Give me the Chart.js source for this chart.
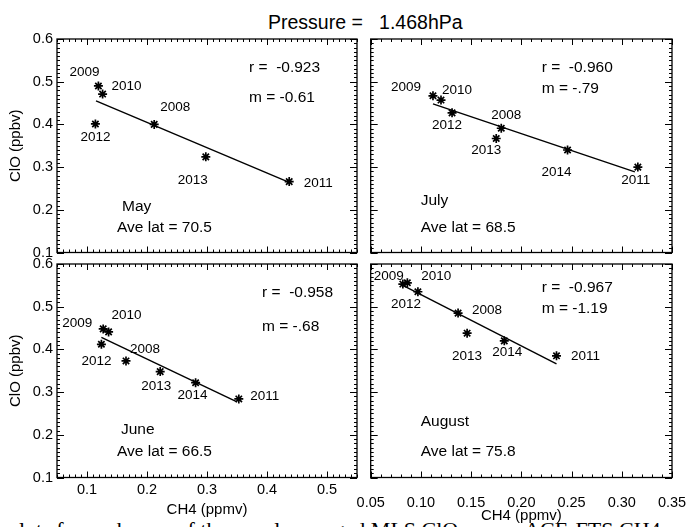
<!DOCTYPE html>
<html>
<head>
<meta charset="utf-8">
<script src="https://cdn.jsdelivr.net/npm/chart.js@4.4.1/dist/chart.umd.min.js"></script>
<style>
html, body { margin: 0; padding: 0; background: #fff; }
body { width: 688px; height: 527px; position: relative; overflow: hidden; font-family: "Liberation Sans", Arial, sans-serif; }
canvas { position: absolute; left: 0; top: 0; }
#title { position: absolute; left: 268px; top: 12px; font-size: 19.5px; line-height: 20px; white-space: pre; color: #000; }
#foot { position: absolute; left: 8px; top: 517px; font-family: "Liberation Serif", "Times New Roman", serif; font-size: 22px; line-height: 26px; white-space: pre; color: #000; }
</style>
</head>
<body>
<div id="title">Pressure =   1.468hPa</div>
<div id="foot">plots for each year of the zonal averaged MLS ClO versus ACE-FTS CH4</div>
<canvas id="may" width="688" height="527"></canvas>
<canvas id="july" width="688" height="527"></canvas>
<canvas id="june" width="688" height="527"></canvas>
<canvas id="august" width="688" height="527"></canvas>
<script>
// values
const mayYears = ['2009', '2010', '2012', '2008', '2013', '2011'];
const mayCH4 = [0.119, 0.126, 0.114, 0.212, 0.298, 0.437];
const mayClO = [0.490, 0.471, 0.401, 0.400, 0.324, 0.266];
const mayFitCH4 = [0.115, 0.437];
const mayFitClO = [0.455, 0.264];

const julyYears = ['2009', '2010', '2012', '2008', '2013', '2014', '2011'];
const julyCH4 = [0.112, 0.120, 0.131, 0.180, 0.175, 0.246, 0.316];
const julyClO = [0.467, 0.457, 0.427, 0.391, 0.367, 0.340, 0.300];
const julyFitCH4 = [0.112, 0.313];
const julyFitClO = [0.448, 0.289];

const juneYears = ['2009', '2010', '2012', '2008', '2013', '2014', '2011'];
const juneCH4 = [0.127, 0.136, 0.124, 0.165, 0.222, 0.281, 0.353];
const juneClO = [0.448, 0.441, 0.412, 0.373, 0.348, 0.322, 0.284];
const juneFitCH4 = [0.124, 0.350];
const juneFitClO = [0.428, 0.277];

const augYears = ['2009', '2010', '2012', '2008', '2013', '2014', '2011'];
const augCH4 = [0.082, 0.0865, 0.097, 0.137, 0.146, 0.183, 0.235];
const augClO = [0.553, 0.556, 0.535, 0.485, 0.438, 0.420, 0.385];
const augFitCH4 = [0.081, 0.235];
const augFitClO = [0.551, 0.366];

const rValues = ['-0.923', '-0.960', '-0.958', '-0.967'];
const mValues = ['-0.61', '-.79', '-.68', '-1.19'];
const monthNames = ['May', 'July', 'June', 'August'];
const aveLats = ['70.5', '68.5', '66.5', '75.8'];

const yTicks = [0.1, 0.2, 0.3, 0.4, 0.5, 0.6];
const yTickLabels = ['0.1', '0.2', '0.3', '0.4', '0.5', '0.6'];
const xTicksLeft = [0.1, 0.2, 0.3, 0.4, 0.5];
const xTickLabelsLeft = ['0.1', '0.2', '0.3', '0.4', '0.5'];
const xTicksRight = [0.05, 0.10, 0.15, 0.20, 0.25, 0.30, 0.35];
const xTickLabelsRight = ['0.05', '0.10', '0.15', '0.20', '0.25', '0.30', '0.35'];

// pixel nudges for the year labels, relative to their star
const mayLabelOffsets = [[-14, -14], [24, -8], [0, 13], [21, -17], [-13, 23], [29, 2]];
const julyLabelOffsets = [[-27, -9], [16, -10], [-5, 12], [5, -13], [-10, 12], [-11, 22], [-2, 13]];
const juneLabelOffsets = [[-26, -6], [18, -17], [-5, 17], [19, -12], [-4, 15], [-3, 13], [26, -3]];
const augLabelOffsets = [[-14, -8], [29, -7], [-12, 13], [29, -3], [0, 23], [3, 11], [29, 0]];

const FONT = '"Liberation Sans", Arial, sans-serif';
Chart.defaults.font.family = FONT;
Chart.defaults.color = '#000';

// IDL style box: border, inward major + minor ticks on all sides, text
const frame = {
  id: 'frame',
  afterDatasetsDraw(chart) {
    const p = chart.options.plugins.frame;
    const { ctx, chartArea: a, scales: { x, y } } = chart;
    ctx.save();
    ctx.strokeStyle = '#000';
    ctx.lineWidth = 1;
    ctx.beginPath();
    const nx = Math.round((p.xMax - p.xMin) / p.xMinor);
    for (let k = 0; k <= nx; k++) {
      const px = Math.round(x.getPixelForValue(p.xMin + k * p.xMinor)) + 0.5;
      ctx.moveTo(px, a.bottom); ctx.lineTo(px, a.bottom - 3);
      ctx.moveTo(px, a.top); ctx.lineTo(px, a.top + 3);
    }
    const ny = Math.round((p.yMax - p.yMin) / p.yMinor);
    for (let k = 0; k <= ny; k++) {
      const py = Math.round(y.getPixelForValue(p.yMin + k * p.yMinor)) + 0.5;
      ctx.moveTo(a.left, py); ctx.lineTo(a.left + 3, py);
      ctx.moveTo(a.right, py); ctx.lineTo(a.right - 3, py);
    }
    x.ticks.forEach(t => {
      const px = Math.round(x.getPixelForValue(t.value)) + 0.5;
      ctx.moveTo(px, a.bottom); ctx.lineTo(px, a.bottom - 6);
      ctx.moveTo(px, a.top); ctx.lineTo(px, a.top + 6);
    });
    y.ticks.forEach(t => {
      const py = Math.round(y.getPixelForValue(t.value)) + 0.5;
      ctx.moveTo(a.left, py); ctx.lineTo(a.left + 7, py);
      ctx.moveTo(a.right, py); ctx.lineTo(a.right - 7, py);
    });
    ctx.stroke();
    ctx.lineWidth = 1.3;
    ctx.strokeRect(a.left, a.top, a.right - a.left, a.bottom - a.top);

    ctx.fillStyle = '#000';
    ctx.font = '13.5px ' + FONT;
    ctx.textAlign = 'center';
    ctx.textBaseline = 'middle';
    p.years.forEach((yr, i) => {
      const px = x.getPixelForValue(p.ch4[i]) + p.offsets[i][0];
      const py = y.getPixelForValue(p.clo[i]) + p.offsets[i][1];
      ctx.fillText(yr, px, py);
    });
    ctx.font = '15.5px ' + FONT;
    ctx.textAlign = 'left';
    const s = p.textPos;
    ctx.fillText('r =  ' + p.r, a.left + s[0][0], a.top + s[0][1]);
    ctx.fillText('m = ' + p.m, a.left + s[1][0], a.top + s[1][1]);
    ctx.fillText(p.month, a.left + s[2][0], a.top + s[2][1]);
    ctx.fillText('Ave lat = ' + p.lat, a.left + s[3][0], a.top + s[3][1]);
    ctx.restore();
  }
};

function makePanel(id, p) {
  const pts = p.ch4.map((v, i) => ({ x: v, y: p.clo[i] }));
  const fit = p.fitX.map((v, i) => ({ x: v, y: p.fitY[i] }));
  new Chart(document.getElementById(id), {
    type: 'scatter',
    data: {
      datasets: [
        { data: fit, showLine: true, pointRadius: 0, borderColor: '#000', borderWidth: 1.4 },
        { data: pts, pointStyle: 'star', pointRadius: 4.5, borderColor: '#000', backgroundColor: '#000', borderWidth: 1.7 }
      ]
    },
    options: {
      responsive: false,
      animation: false,
      events: [],
      layout: { autoPadding: false, padding: p.pad },
      plugins: {
        legend: { display: false },
        tooltip: { enabled: false },
        frame: p
      },
      scales: {
        x: {
          type: 'linear', min: p.xMin, max: p.xMax,
          grid: { display: false, drawTicks: false },
          border: { display: false },
          afterBuildTicks: s => { s.ticks = p.xTicks.map(v => ({ value: v })); },
          afterFit: s => { s.height = p.xH; s.paddingLeft = 0; s.paddingRight = 0; },
          ticks: {
            display: p.showX, padding: p.xPad, autoSkip: false, maxRotation: 0,
            font: { size: 14.5 }, color: '#000',
            callback: (v, i) => p.xLabels[i]
          },
          title: { display: p.showX, text: 'CH4 (ppmv)', font: { size: 15 }, padding: 0, color: '#000' }
        },
        y: {
          type: 'linear', min: p.yMin, max: p.yMax,
          grid: { display: false, drawTicks: false },
          border: { display: false },
          afterBuildTicks: s => { s.ticks = yTicks.map(v => ({ value: v })); },
          afterFit: s => { s.width = p.yW; s.paddingTop = 0; s.paddingBottom = 0; },
          ticks: {
            display: p.showY, padding: 4, autoSkip: false,
            font: { size: 14.5 }, color: '#000',
            callback: (v, i) => yTickLabels[i]
          },
          title: { display: p.showY, text: 'ClO (ppbv)', font: { size: 15 }, padding: 0, color: '#000' }
        }
      }
    },
    plugins: [frame]
  });
}

const leftX = { xMin: 0.05, xMax: 0.55, xMinor: 0.01, xTicks: xTicksLeft, xLabels: xTickLabelsLeft };
const rightX = { xMin: 0.05, xMax: 0.35, xMinor: 0.01, xTicks: xTicksRight, xLabels: xTickLabelsRight };
const yRange = { yMin: 0.1, yMax: 0.6, yMinor: 0.01 };

makePanel('may', Object.assign({}, leftX, yRange, {
  years: mayYears, ch4: mayCH4, clo: mayClO, fitX: mayFitCH4, fitY: mayFitClO, offsets: mayLabelOffsets,
  r: rValues[0], m: mValues[0], month: monthNames[0], lat: aveLats[0],
  textPos: [[192, 29], [192, 59], [65, 168], [60, 189]],
  pad: { left: 7, top: 39, right: 331, bottom: 274.5 },
  showX: false, showY: true, xH: 0, yW: 50, xPad: 0
}));
makePanel('july', Object.assign({}, rightX, yRange, {
  years: julyYears, ch4: julyCH4, clo: julyClO, fitX: julyFitCH4, fitY: julyFitClO, offsets: julyLabelOffsets,
  r: rValues[1], m: mValues[1], month: monthNames[1], lat: aveLats[1],
  textPos: [[171, 29], [171, 50], [50, 162], [50, 189]],
  pad: { left: 370.7, top: 39, right: 16, bottom: 274.5 },
  showX: false, showY: false, xH: 0, yW: 0, xPad: 0
}));
makePanel('june', Object.assign({}, leftX, yRange, {
  years: juneYears, ch4: juneCH4, clo: juneClO, fitX: juneFitCH4, fitY: juneFitClO, offsets: juneLabelOffsets,
  r: rValues[2], m: mValues[2], month: monthNames[2], lat: aveLats[2],
  textPos: [[205, 29], [205, 63], [64, 166], [60, 188]],
  pad: { left: 7, top: 264, right: 331, bottom: 8 },
  showX: true, showY: true, xH: 41.5, yW: 50, xPad: 3.8
}));
makePanel('august', Object.assign({}, rightX, yRange, {
  years: augYears, ch4: augCH4, clo: augClO, fitX: augFitCH4, fitY: augFitClO, offsets: augLabelOffsets,
  r: rValues[3], m: mValues[3], month: monthNames[3], lat: aveLats[3],
  textPos: [[171, 24], [171, 45], [50, 158], [50, 188]],
  pad: { left: 370.7, top: 264, right: 16, bottom: 2.5 },
  showX: true, showY: false, xH: 47, yW: 0, xPad: 16.8
}));
</script>
</body>
</html>
